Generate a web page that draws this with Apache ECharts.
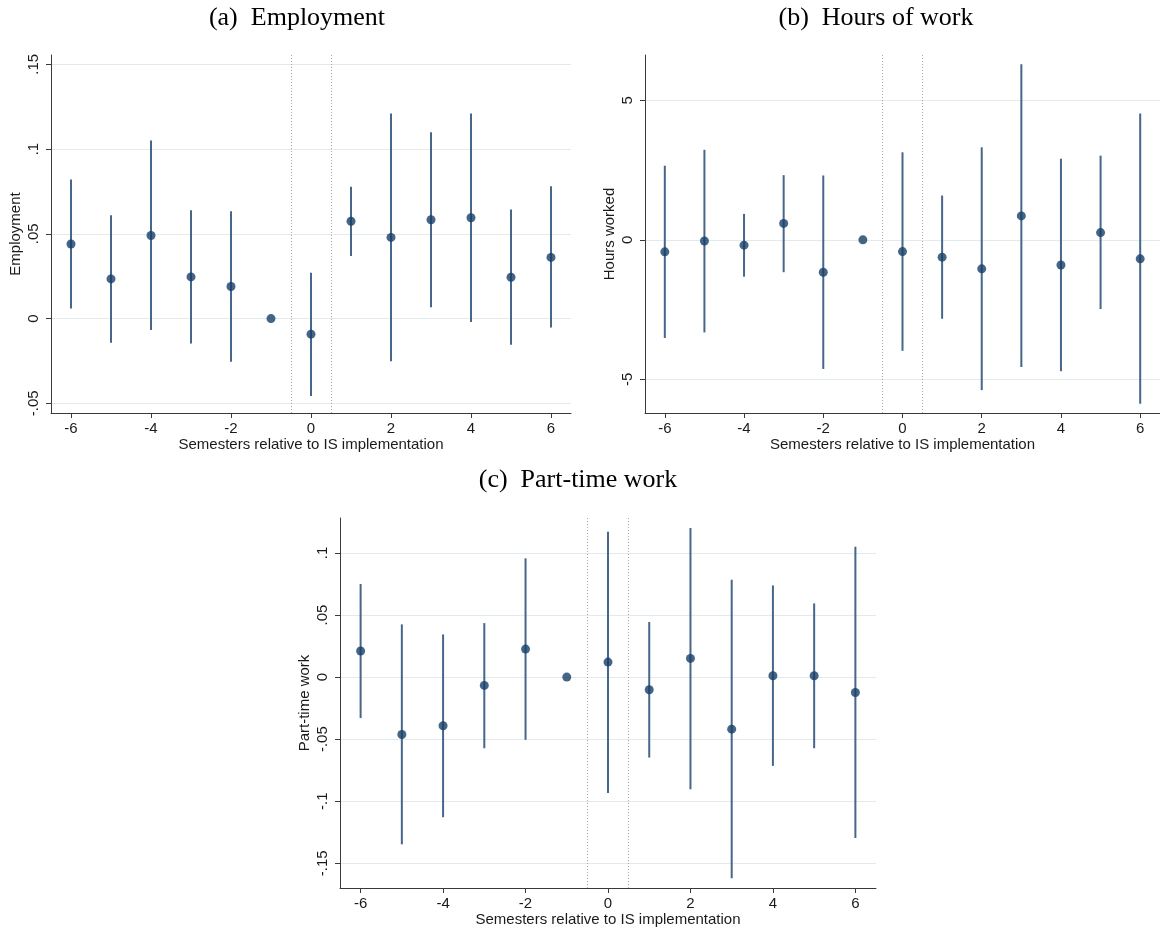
<!DOCTYPE html>
<html>
<head>
<meta charset="utf-8">
<script src="https://cdn.jsdelivr.net/npm/echarts@6/dist/echarts.min.js"></script>
<style>
html,body{margin:0;padding:0;background:#fff;}
#chart{width:1160px;height:932px;}
</style>
</head>
<body>
<div id="chart"></div>
<script>
var semesters = [-6,-5,-4,-3,-2,-1,0,1,2,3,4,5,6];

var empCoef = [0.044, 0.0234, 0.049, 0.0246, 0.0189, 0, -0.0092, 0.0574, 0.0479, 0.0583, 0.0595, 0.0244, 0.0361];
var empLo   = [0.0059, -0.0143, -0.0067, -0.0147, -0.0255, null, -0.0456, 0.0369, -0.0251, 0.0067, -0.002, -0.0155, -0.0053];
var empHi   = [0.082, 0.061, 0.105, 0.0639, 0.0633, null, 0.0271, 0.0778, 0.121, 0.110, 0.121, 0.0644, 0.078];

var hoursCoef = [-0.43, -0.04, -0.19, 0.59, -1.16, 0, -0.42, -0.62, -1.04, 0.86, -0.90, 0.26, -0.68];
var hoursLo   = [-3.52, -3.32, -1.32, -1.16, -4.63, null, -3.98, -2.83, -5.39, -4.56, -4.71, -2.48, -5.88];
var hoursHi   = [2.66, 3.23, 0.93, 2.32, 2.31, null, 3.14, 1.59, 3.32, 6.30, 2.91, 3.02, 4.53];

var ptCoef = [0.021, -0.0462, -0.0392, -0.0067, 0.0226, 0, 0.0121, -0.0102, 0.0151, -0.0419, 0.0011, 0.0011, -0.0124];
var ptLo   = [-0.033, -0.1347, -0.1129, -0.0573, -0.0505, null, -0.0933, -0.0648, -0.0903, -0.1621, -0.0715, -0.0573, -0.1296];
var ptHi   = [0.075, 0.0425, 0.0344, 0.0435, 0.0957, null, 0.1172, 0.0444, 0.1202, 0.0785, 0.0739, 0.0594, 0.1051];

var xTicks = [-6,-4,-2,0,2,4,6];
var empTicks = [-0.05, 0, 0.05, 0.1, 0.15];
var empTickLabels = ["-.05", "0", ".05", ".1", ".15"];
var hoursTicks = [-5, 0, 5];
var hoursTickLabels = ["-5", "0", "5"];
var ptTicks = [-0.15, -0.1, -0.05, 0, 0.05, 0.1];
var ptTickLabels = ["-.15", "-.1", "-.05", "0", ".05", ".1"];

var panelTitles = ["(a)  Employment", "(b)  Hours of work", "(c)  Part-time work"];
var yNames = ["Employment", "Hours worked", "Part-time work"];
var xName = "Semesters relative to IS implementation";

var AXIS_COLOR = '#3a3a3a';
var TEXT_COLOR = '#1a1a1a';
var GRID_COLOR = '#e2ebec';
var DOT_COLOR = '#173f68';
var CI_COLOR = '#46668a';
var FONT = 'Liberation Sans, Arial, sans-serif';

function labelFor(ticks, labels) {
  return function (v) {
    for (var i = 0; i < ticks.length; i++) {
      if (Math.abs(ticks[i] - v) < 1e-9) return labels[i];
    }
    return '';
  };
}

function makeX(gi) {
  return {
    type: 'value', gridIndex: gi, min: -6.5, max: 6.5,
    name: xName, nameLocation: 'middle', nameGap: 23,
    nameTextStyle: {fontFamily: FONT, fontSize: 15, color: TEXT_COLOR},
    axisLine: {onZero: false, lineStyle: {color: AXIS_COLOR, width: 1}},
    axisTick: {customValues: xTicks, length: 5, lineStyle: {color: AXIS_COLOR}},
    axisLabel: {customValues: xTicks, margin: 8, fontFamily: FONT, fontSize: 15, color: TEXT_COLOR},
    splitLine: {show: false}
  };
}

function makeY(gi, min, max, ticks, labels, name) {
  return {
    type: 'value', gridIndex: gi, min: min, max: max,
    name: name, nameLocation: 'middle', nameGap: 28, nameRotate: 90,
    nameTextStyle: {fontFamily: FONT, fontSize: 15, color: TEXT_COLOR},
    axisLine: {show: true, onZero: false, lineStyle: {color: AXIS_COLOR, width: 1}},
    axisTick: {show: true, customValues: ticks, length: 5, lineStyle: {color: AXIS_COLOR}},
    axisLabel: {customValues: ticks, rotate: 90, margin: 10, fontFamily: FONT, fontSize: 15, color: TEXT_COLOR,
      formatter: labelFor(ticks, labels)},
    splitLine: {show: true, lineStyle: {color: GRID_COLOR, width: 1}}
  };
}

function ciData(lo, hi) {
  var out = [];
  for (var i = 0; i < semesters.length; i++) {
    if (lo[i] !== null && hi[i] !== null) out.push([semesters[i], lo[i], hi[i]]);
  }
  return out;
}
function ptData(c) {
  return semesters.map(function (s, i) { return [s, c[i]]; });
}

function ciSeries(gi, lo, hi) {
  return {
    type: 'custom', xAxisIndex: gi, yAxisIndex: gi, silent: true,
    data: ciData(lo, hi),
    encode: {x: 0, y: [1, 2]},
    renderItem: function (params, api) {
      var p1 = api.coord([api.value(0), api.value(1)]);
      var p2 = api.coord([api.value(0), api.value(2)]);
      return {type: 'line', shape: {x1: p1[0], y1: p1[1], x2: p2[0], y2: p2[1]},
        style: {stroke: CI_COLOR, lineWidth: 2}};
    }
  };
}
function dotSeries(gi, c) {
  return {
    type: 'scatter', xAxisIndex: gi, yAxisIndex: gi, silent: true,
    data: ptData(c), symbol: 'circle', symbolSize: 9,
    itemStyle: {color: DOT_COLOR},
    markLine: {
      silent: true, symbol: ['none', 'none'], label: {show: false},
      lineStyle: {color: '#a8a8a8', type: [1, 2], width: 1},
      data: [{xAxis: -0.5}, {xAxis: 0.5}]
    }
  };
}

var chart = echarts.init(document.getElementById('chart'), null, {renderer: 'canvas'});
chart.setOption({
  backgroundColor: '#ffffff',
  animation: false,
  graphic: [
    {type: 'text', x: 297, y: 18, style: {text: panelTitles[0], font: '26px "Liberation Serif", "Times New Roman", serif', fill: '#000', textAlign: 'center', textVerticalAlign: 'middle'}},
    {type: 'text', x: 876, y: 18, style: {text: panelTitles[1], font: '26px "Liberation Serif", "Times New Roman", serif', fill: '#000', textAlign: 'center', textVerticalAlign: 'middle'}},
    {type: 'text', x: 578, y: 480, style: {text: panelTitles[2], font: '26px "Liberation Serif", "Times New Roman", serif', fill: '#000', textAlign: 'center', textVerticalAlign: 'middle'}}
  ],
  grid: [
    {left: 51, top: 55, width: 520, height: 358},
    {left: 645, top: 55, width: 520, height: 358},
    {left: 340, top: 518, width: 536, height: 370}
  ],
  xAxis: [makeX(0), makeX(1), makeX(2)],
  yAxis: [
    makeY(0, -0.0557, 0.1555, empTicks, empTickLabels, yNames[0]),
    makeY(1, -6.21, 6.63, hoursTicks, hoursTickLabels, yNames[1]),
    makeY(2, -0.1699, 0.1282, ptTicks, ptTickLabels, yNames[2])
  ],
  series: [
    ciSeries(0, empLo, empHi), dotSeries(0, empCoef),
    ciSeries(1, hoursLo, hoursHi), dotSeries(1, hoursCoef),
    ciSeries(2, ptLo, ptHi), dotSeries(2, ptCoef)
  ]
});
</script>
</body>
</html>
